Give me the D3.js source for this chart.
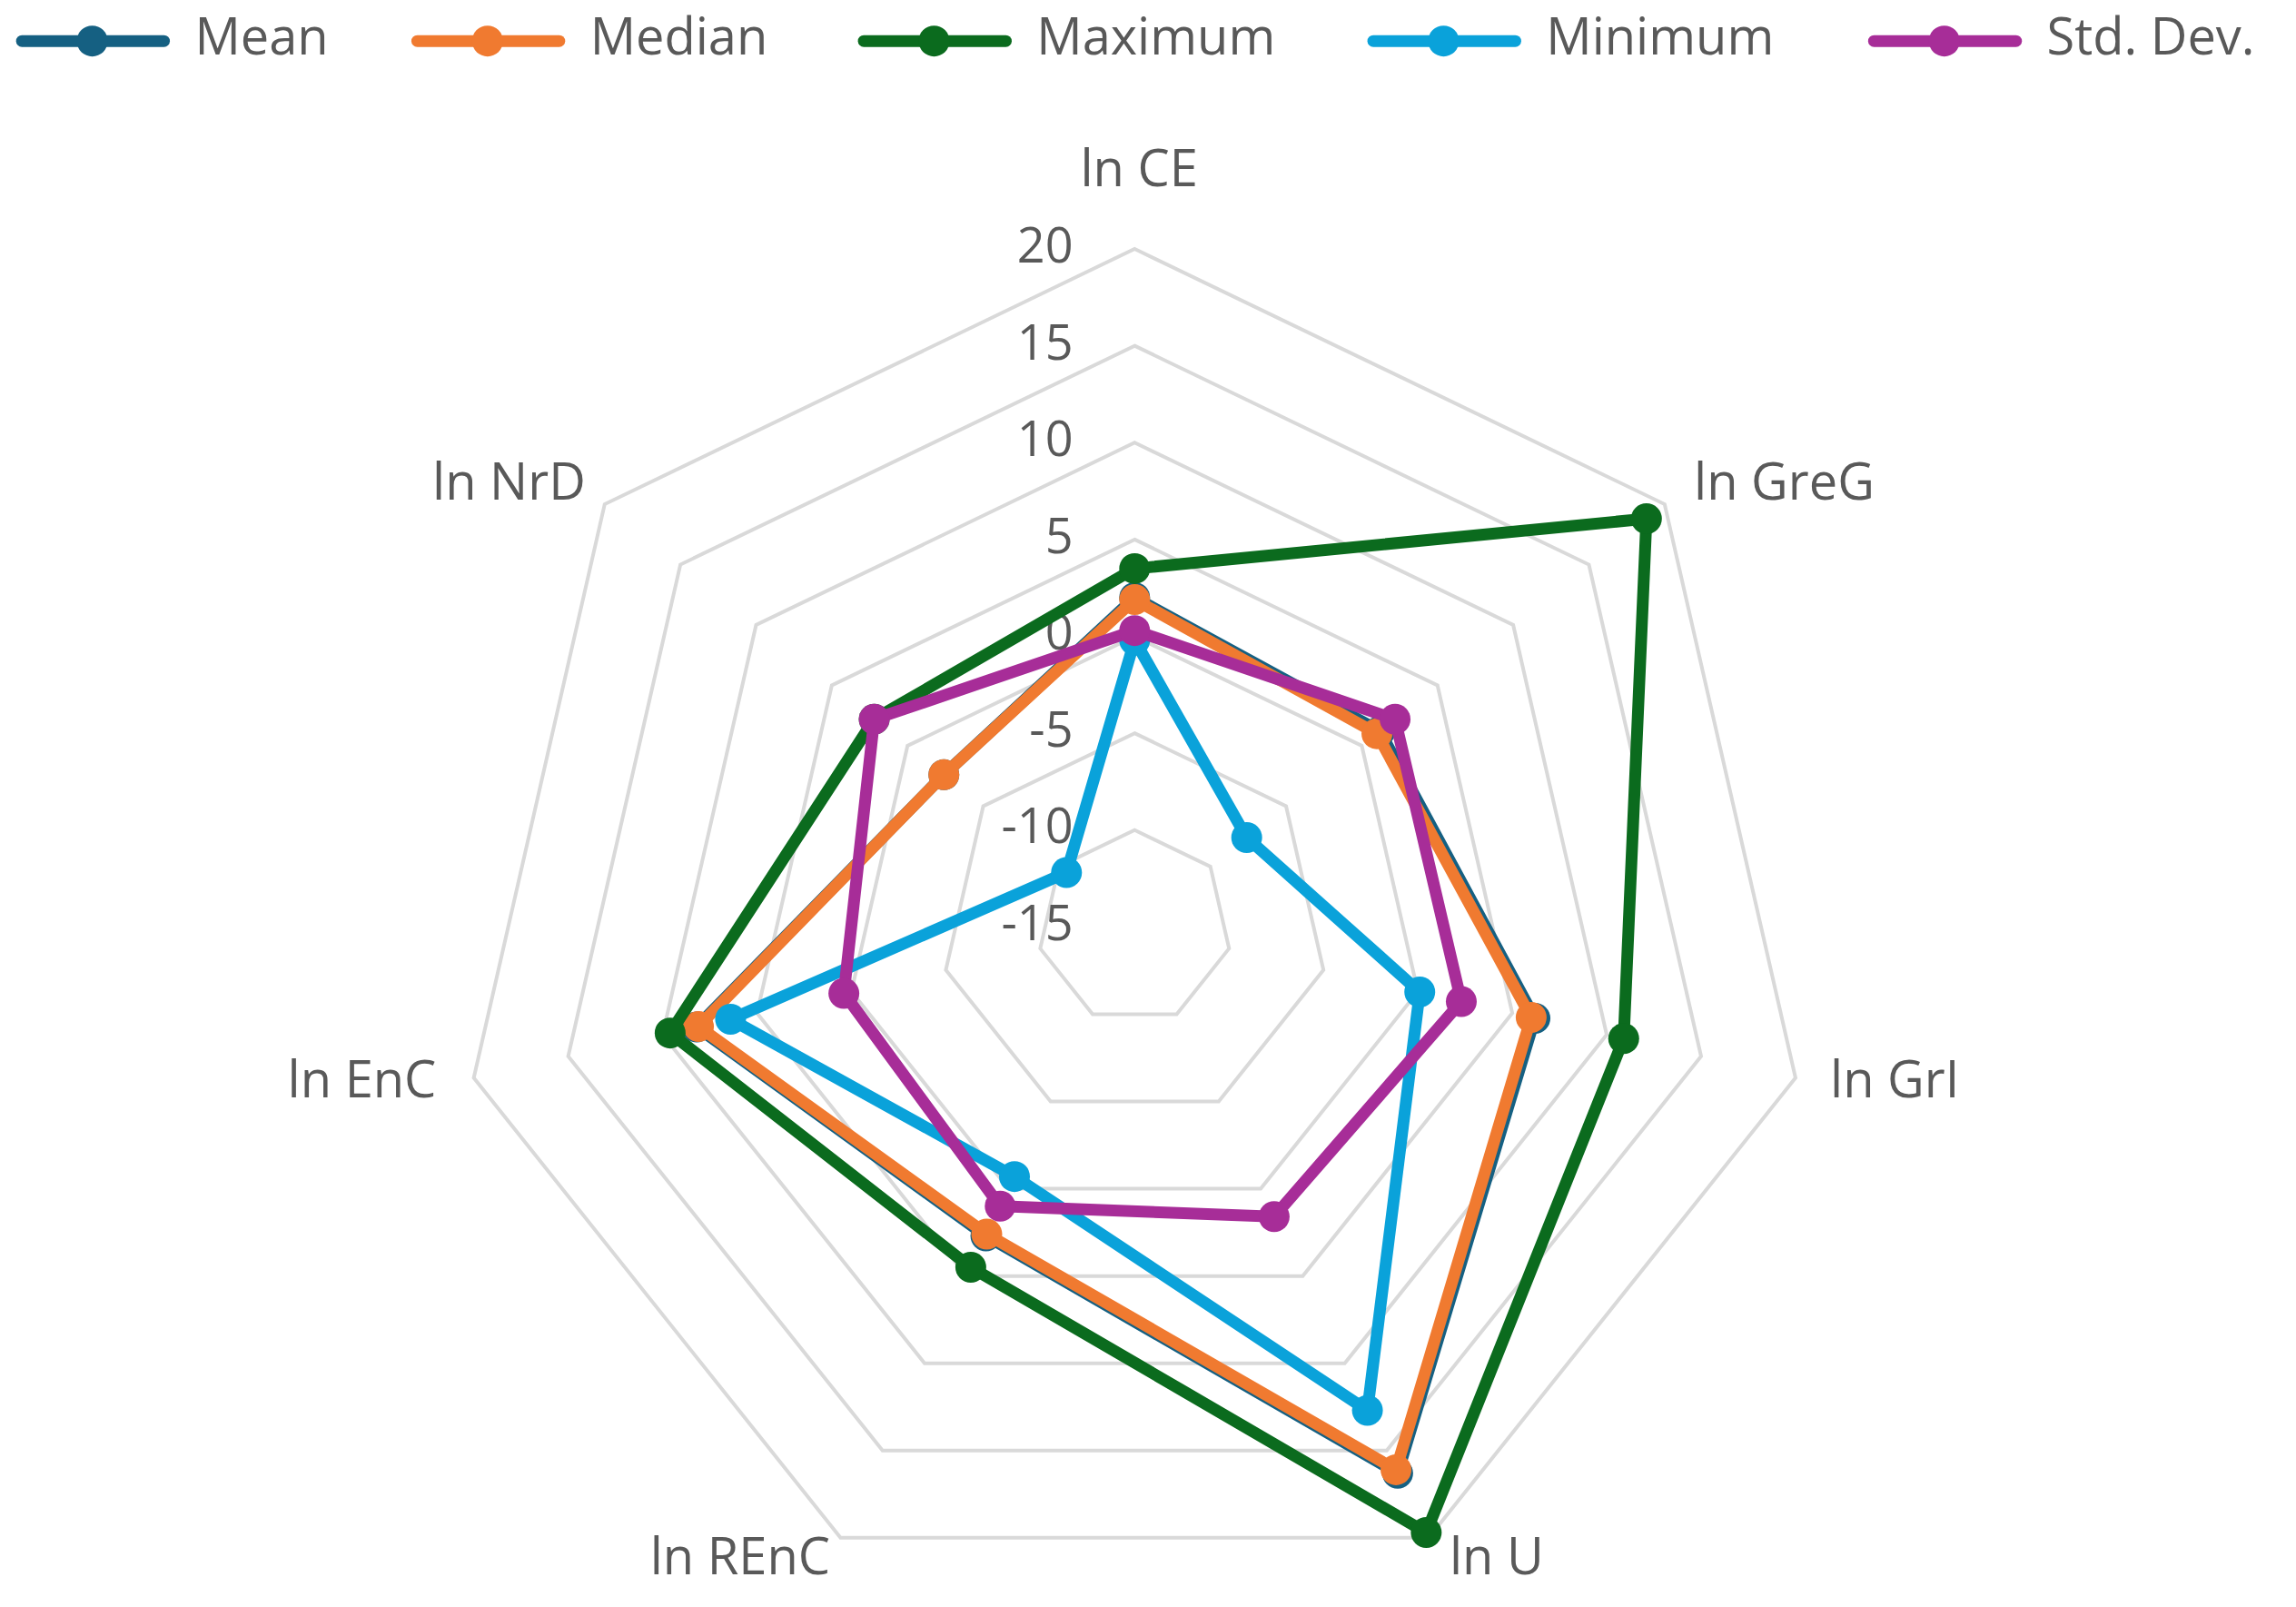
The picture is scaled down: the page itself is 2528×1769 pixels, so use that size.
<!DOCTYPE html>
<html><head><meta charset="utf-8">
<script src="https://cdn.jsdelivr.net/npm/d3@7"></script>
<style>body{margin:0;background:#fff}</style></head>
<body><svg id="c" width="2528" height="1769"></svg>
<script>
const axes = ["ln CE","ln GreG","ln GrI","ln U","ln REnC","ln EnC","ln NrD"];
const ticks = [-15,-10,-5,0,5,10,15,20];
const seriesNames = ["Mean","Median","Maximum","Minimum","Std. Dev."];
const colors = ["#156082","#F07A30","#0B6B1E","#0AA2DA","#A72D98"];
const mean   = [2.0, 1.2, 6.2, 16.3, 2.7, 8.2, -2.4];
const median = [1.9, 1.0, 6.0, 16.1, 2.6, 8.1, -2.4];
const maximum= [3.5, 18.8, 10.9, 19.7, 4.5, 9.6, 2.2];
const minimum= [-0.2, -7.6, 0.1, 12.7, -0.7, 6.4, -10.5];
const stddev = [0.3, 2.2, 2.3, 1.6, 1.0, 0.4, 2.2];
const data = [mean, median, maximum, minimum, stddev];

const s = 1.612;
const cx = 775*s, cy = 633*s, R = 463*s;
const svg = d3.select("#c");
const r = d3.scaleLinear().domain([-15,20]).range([0,R]);
const ang = i => i*2*Math.PI/axes.length;
const pt = (i,v) => [cx + r(v)*Math.sin(ang(i)), cy - r(v)*Math.cos(ang(i))];
const font = "'Open Sans', 'Noto Sans', sans-serif";

// grid
ticks.slice(1).forEach(t=>{
  svg.append("path").attr("d", d3.line()(axes.map((a,i)=>pt(i,t)))+"Z")
    .attr("fill","none").attr("stroke","#d9d9d9").attr("stroke-width",4);
});
// tick labels
ticks.forEach((t,k)=>{
  svg.append("text").attr("x",733*s).attr("y",(633-k*66.1)*s).attr("text-anchor","end")
    .attr("dominant-baseline","middle").attr("font-family",font).attr("font-size",54)
    .attr("fill","#595959").text(t);
});
// axis labels
const lab = [[778,118,"middle"],[1157,332,"start"],[1250,740,"start"],[990,1066,"start"],[567,1066,"end"],[298,740,"end"],[400,332,"end"]];
axes.forEach((a,i)=>{
  svg.append("text").attr("x",lab[i][0]*s).attr("y",lab[i][1]*s).attr("text-anchor",lab[i][2])
    .attr("dominant-baseline","middle").attr("font-family",font).attr("font-size",56)
    .attr("fill","#595959").text(a);
});
// series
data.forEach((d,j)=>{
  const g = svg.append("g");
  g.append("path").attr("d", d3.line()(d.map((v,i)=>pt(i,v)))+"Z")
    .attr("fill","none").attr("stroke",colors[j]).attr("stroke-width",13).attr("stroke-linejoin","round");
  d.forEach((v,i)=>{const p=pt(i,v);
    g.append("circle").attr("cx",p[0]).attr("cy",p[1]).attr("r",17).attr("fill",colors[j]);});
});
// legend
const lx = [15,285,590,938,1280];
seriesNames.forEach((n,j)=>{
  const x0 = lx[j]*s, y0 = 28*s;
  svg.append("line").attr("x1",x0).attr("x2",x0+97*s).attr("y1",y0).attr("y2",y0)
    .attr("stroke",colors[j]).attr("stroke-width",13).attr("stroke-linecap","round");
  svg.append("circle").attr("cx",x0+48*s).attr("cy",y0).attr("r",17).attr("fill",colors[j]);
  svg.append("text").attr("x",x0+118*s).attr("y",y0).attr("dominant-baseline","middle")
    .attr("font-family",font).attr("font-size",56).attr("fill","#595959").text(n);
});
</script></body></html>
